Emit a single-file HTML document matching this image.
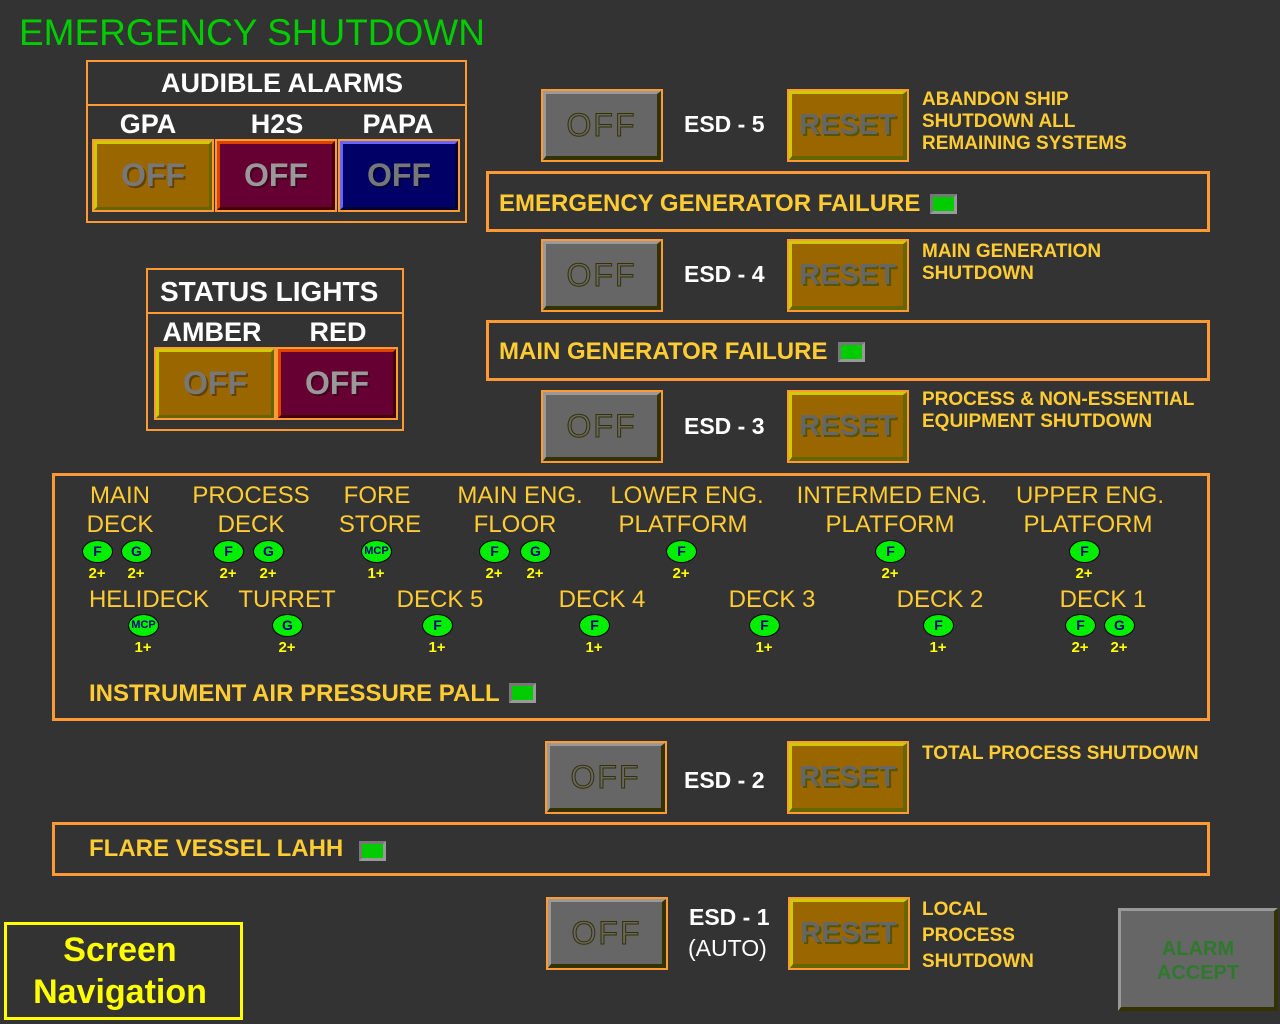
<!DOCTYPE html>
<html><head><meta charset="utf-8"><style>
*{margin:0;padding:0;box-sizing:border-box}
body{width:1280px;height:1024px;background:#333333;position:relative;overflow:hidden;font-family:"Liberation Sans",Arial,sans-serif}
.a{position:absolute}
.t{position:absolute;white-space:nowrap;line-height:1}
.c{position:absolute;white-space:nowrap;line-height:1;text-align:center;width:240px}
.box{position:absolute;border:2px solid #ff9933}
.box3{position:absolute;border:3px solid #ff9933}
.btn{position:absolute;border:2px solid #ff9933}
.btn>div{position:absolute;left:0;top:0;right:0;bottom:0;display:flex;align-items:center;justify-content:center}
.gray{background:#666;border-top:3px solid #999;border-left:3px solid #999;border-bottom:4px solid #333300;border-right:4px solid #333300}
.amb{background:#996600;border-top:3px solid #cccc00;border-left:3px solid #cccc00;border-bottom:4px solid #666600;border-right:4px solid #666600}
.offt{font-size:32px;color:#666;font-weight:normal;-webkit-text-stroke:1px #333300;letter-spacing:2px}
.rst{font-size:29px;color:#666;font-weight:bold;text-shadow:2px 2px 0 #555500}
.al{font-size:32px;font-weight:bold;text-shadow:2px 2px 0 rgba(0,0,0,.35)}
.y{color:#ffcc33}
.w{color:#fff}
.ind{position:absolute;width:27px;height:20px;background:#00cc00;border:3px solid #777;border-right-color:#999;border-bottom-color:#999}
.dot{position:absolute;width:31px;height:23px;border-radius:50%;background:#00ee00;border:1px solid #000;color:#000080;font-size:14px;font-weight:bold;text-align:center;line-height:21px}
.dot.m{font-size:11px}
.n{position:absolute;width:40px;text-align:center;color:#ffff00;font-size:15px;font-weight:bold;line-height:1}
.lab{position:absolute;width:260px;text-align:center;color:#ffcc33;font-size:24px;line-height:1;white-space:nowrap}
.hd{font-size:27px;font-weight:bold}
.bt{font-size:24px;font-weight:bold}
.ds{font-size:19px;font-weight:bold;line-height:22px}
.esd{font-size:23px;font-weight:bold}
</style></head><body>

<div class="t" style="left:19px;top:14px;font-size:37px;color:#00cc00">EMERGENCY SHUTDOWN</div>

<!-- Audible alarms -->
<div class="box" style="left:86px;top:60px;width:381px;height:163px"></div>
<div class="a" style="left:86px;top:104px;width:381px;height:2px;background:#ff9933"></div>
<div class="c w hd" style="left:161px;top:70px">AUDIBLE ALARMS</div>
<div class="c w hd" style="left:28px;top:111px">GPA</div>
<div class="c w hd" style="left:157px;top:111px">H2S</div>
<div class="c w hd" style="left:278px;top:111px">PAPA</div>
<div class="btn" style="left:92px;top:139px;width:122px;height:73px"><div class="al" style="background:#996600;border-top:3px solid #cccc00;border-left:3px solid #cccc00;border-bottom:3px solid #666600;border-right:3px solid #666600;color:#777">OFF</div></div>
<div class="btn" style="left:215px;top:139px;width:122px;height:73px"><div class="al" style="background:#660033;border-top:3px solid #dd4400;border-left:3px solid #dd4400;border-bottom:3px solid #440000;border-right:3px solid #440000;color:#999">OFF</div></div>
<div class="btn" style="left:338px;top:139px;width:122px;height:73px"><div class="al" style="background:#000066;border-top:3px solid #6666ff;border-left:3px solid #6666ff;border-bottom:3px solid #000033;border-right:3px solid #000033;color:#777">OFF</div></div>

<!-- Status lights -->
<div class="box" style="left:146px;top:268px;width:258px;height:163px"></div>
<div class="a" style="left:146px;top:312px;width:258px;height:2px;background:#ff9933"></div>
<div class="t w" style="left:160px;top:278px;font-size:28px;font-weight:bold">STATUS LIGHTS</div>
<div class="c w hd" style="left:92px;top:319px">AMBER</div>
<div class="c w hd" style="left:218px;top:319px">RED</div>
<div class="btn" style="left:154px;top:347px;width:122px;height:73px"><div class="al" style="background:#996600;border-top:3px solid #cccc00;border-left:3px solid #cccc00;border-bottom:3px solid #666600;border-right:3px solid #666600;color:#777">OFF</div></div>
<div class="btn" style="left:276px;top:347px;width:122px;height:73px"><div class="al" style="background:#660033;border-top:3px solid #dd4400;border-left:3px solid #dd4400;border-bottom:3px solid #440000;border-right:3px solid #440000;color:#999">OFF</div></div>

<!-- ESD 5 -->
<div class="btn" style="left:541px;top:89px;width:122px;height:73px"><div class="gray"><span class="offt">OFF</span></div></div>
<div class="t w esd" style="left:684px;top:113px">ESD - 5</div>
<div class="btn" style="left:787px;top:89px;width:122px;height:73px"><div class="amb"><span class="rst">RESET</span></div></div>
<div class="t y ds" style="left:922px;top:89px">ABANDON SHIP<br>SHUTDOWN ALL<br>REMAINING SYSTEMS</div>

<div class="box3" style="left:486px;top:171px;width:724px;height:61px"></div>
<div class="t y bt" style="left:499px;top:192px">EMERGENCY GENERATOR FAILURE</div>
<div class="ind" style="left:930px;top:194px"></div>

<!-- ESD 4 -->
<div class="btn" style="left:541px;top:239px;width:122px;height:73px"><div class="gray"><span class="offt">OFF</span></div></div>
<div class="t w esd" style="left:684px;top:263px">ESD - 4</div>
<div class="btn" style="left:787px;top:239px;width:122px;height:73px"><div class="amb"><span class="rst">RESET</span></div></div>
<div class="t y ds" style="left:922px;top:241px">MAIN GENERATION<br>SHUTDOWN</div>

<div class="box3" style="left:486px;top:320px;width:724px;height:61px"></div>
<div class="t y bt" style="left:499px;top:340px">MAIN GENERATOR FAILURE</div>
<div class="ind" style="left:838px;top:342px"></div>

<!-- ESD 3 -->
<div class="btn" style="left:541px;top:390px;width:122px;height:73px"><div class="gray"><span class="offt">OFF</span></div></div>
<div class="t w esd" style="left:684px;top:415px">ESD - 3</div>
<div class="btn" style="left:787px;top:390px;width:122px;height:73px"><div class="amb"><span class="rst">RESET</span></div></div>
<div class="t y ds" style="left:922px;top:389px">PROCESS &amp; NON-ESSENTIAL<br>EQUIPMENT SHUTDOWN</div>

<!-- big box -->
<div class="box3" style="left:52px;top:473px;width:1158px;height:248px"></div>
<div class="lab" style="left:-10px;top:484px">MAIN</div><div class="lab" style="left:-10px;top:513px">DECK</div>
<div class="lab" style="left:121px;top:484px">PROCESS</div><div class="lab" style="left:121px;top:513px">DECK</div>
<div class="lab" style="left:247px;top:484px">FORE</div><div class="lab" style="left:250px;top:513px">STORE</div>
<div class="lab" style="left:390px;top:484px">MAIN ENG.</div><div class="lab" style="left:385px;top:513px">FLOOR</div>
<div class="lab" style="left:557px;top:484px">LOWER ENG.</div><div class="lab" style="left:553px;top:513px">PLATFORM</div>
<div class="lab" style="left:762px;top:484px">INTERMED ENG.</div><div class="lab" style="left:760px;top:513px">PLATFORM</div>
<div class="lab" style="left:960px;top:484px">UPPER ENG.</div><div class="lab" style="left:958px;top:513px">PLATFORM</div>

<div class="dot" style="left:82px;top:540px">F</div><div class="n" style="left:77px;top:566px">2+</div>
<div class="dot" style="left:121px;top:540px">G</div><div class="n" style="left:116px;top:566px">2+</div>
<div class="dot" style="left:213px;top:540px">F</div><div class="n" style="left:208px;top:566px">2+</div>
<div class="dot" style="left:253px;top:540px">G</div><div class="n" style="left:248px;top:566px">2+</div>
<div class="dot m" style="left:361px;top:540px">MCP</div><div class="n" style="left:356px;top:566px">1+</div>
<div class="dot" style="left:479px;top:540px">F</div><div class="n" style="left:474px;top:566px">2+</div>
<div class="dot" style="left:520px;top:540px">G</div><div class="n" style="left:515px;top:566px">2+</div>
<div class="dot" style="left:666px;top:540px">F</div><div class="n" style="left:661px;top:566px">2+</div>
<div class="dot" style="left:875px;top:540px">F</div><div class="n" style="left:870px;top:566px">2+</div>
<div class="dot" style="left:1069px;top:540px">F</div><div class="n" style="left:1064px;top:566px">2+</div>

<div class="lab" style="left:19px;top:588px">HELIDECK</div>
<div class="lab" style="left:157px;top:588px">TURRET</div>
<div class="lab" style="left:310px;top:588px">DECK 5</div>
<div class="lab" style="left:472px;top:588px">DECK 4</div>
<div class="lab" style="left:642px;top:588px">DECK 3</div>
<div class="lab" style="left:810px;top:588px">DECK 2</div>
<div class="lab" style="left:973px;top:588px">DECK 1</div>

<div class="dot m" style="left:128px;top:614px">MCP</div><div class="n" style="left:123px;top:640px">1+</div>
<div class="dot" style="left:272px;top:614px">G</div><div class="n" style="left:267px;top:640px">2+</div>
<div class="dot" style="left:422px;top:614px">F</div><div class="n" style="left:417px;top:640px">1+</div>
<div class="dot" style="left:579px;top:614px">F</div><div class="n" style="left:574px;top:640px">1+</div>
<div class="dot" style="left:749px;top:614px">F</div><div class="n" style="left:744px;top:640px">1+</div>
<div class="dot" style="left:923px;top:614px">F</div><div class="n" style="left:918px;top:640px">1+</div>
<div class="dot" style="left:1065px;top:614px">F</div><div class="n" style="left:1060px;top:640px">2+</div>
<div class="dot" style="left:1104px;top:614px">G</div><div class="n" style="left:1099px;top:640px">2+</div>

<div class="t y bt" style="left:89px;top:682px">INSTRUMENT AIR PRESSURE PALL</div>
<div class="ind" style="left:509px;top:683px"></div>

<!-- ESD 2 -->
<div class="btn" style="left:545px;top:741px;width:122px;height:73px"><div class="gray"><span class="offt">OFF</span></div></div>
<div class="t w esd" style="left:684px;top:769px">ESD - 2</div>
<div class="btn" style="left:787px;top:741px;width:122px;height:73px"><div class="amb"><span class="rst">RESET</span></div></div>
<div class="t y ds" style="left:922px;top:743px">TOTAL PROCESS SHUTDOWN</div>

<div class="box3" style="left:52px;top:822px;width:1158px;height:54px"></div>
<div class="t y bt" style="left:89px;top:837px">FLARE VESSEL LAHH</div>
<div class="ind" style="left:359px;top:841px"></div>

<!-- ESD 1 -->
<div class="btn" style="left:546px;top:897px;width:122px;height:73px"><div class="gray"><span class="offt">OFF</span></div></div>
<div class="t w esd" style="left:689px;top:906px">ESD - 1</div>
<div class="t w" style="left:688px;top:937px;font-size:23px">(AUTO)</div>
<div class="btn" style="left:788px;top:897px;width:122px;height:73px"><div class="amb"><span class="rst">RESET</span></div></div>
<div class="t y ds" style="left:922px;top:897px;line-height:26px">LOCAL<br>PROCESS<br>SHUTDOWN</div>

<!-- Screen nav -->
<div class="a" style="left:4px;top:922px;width:239px;height:98px;border:3px solid #ffff00"></div>
<div class="a" style="left:4px;top:929px;width:232px;text-align:center;color:#ffff00;font-size:34px;font-weight:bold;line-height:42px">Screen<br>Navigation</div>

<!-- Alarm accept -->
<div class="a" style="left:1118px;top:908px;width:160px;height:103px;background:#666;border-top:3px solid #999;border-left:3px solid #999;border-bottom:4px solid #333300;border-right:4px solid #333300"></div>
<div class="a" style="left:1118px;top:937px;width:160px;text-align:center;color:#2d7a2d;font-size:20px;font-weight:bold;line-height:24px">ALARM<br>ACCEPT</div>

</body></html>
